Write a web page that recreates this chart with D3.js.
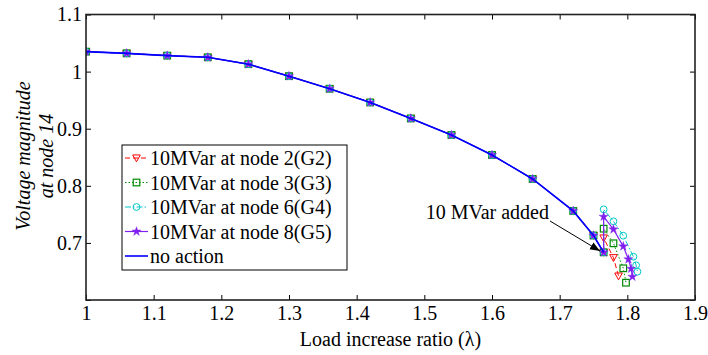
<!DOCTYPE html>
<html>
<head>
<meta charset="utf-8">
<script src="https://cdn.jsdelivr.net/npm/d3@7"></script>
<style>
  body { margin: 0; background: #fff; }
  svg { display: block; }
  text { font-family: "Liberation Serif", "Times New Roman", serif; }
</style>
</head>
<body>
<svg id="chart" width="708" height="355"></svg>
<script>
// ---- data ----
const baseLambda = [1.00, 1.06, 1.12, 1.18, 1.24, 1.30, 1.36, 1.42, 1.48, 1.54, 1.60, 1.66, 1.72, 1.75, 1.765];
const baseV      = [1.035, 1.032, 1.028, 1.025, 1.013, 0.992, 0.970, 0.946, 0.918, 0.889, 0.854, 0.812, 0.756, 0.713, 0.6835];

const g2Lambda = [1.765, 1.7795, 1.787];
const g2V      = [0.7086, 0.6741, 0.642];
const g3Lambda = [1.765, 1.7795, 1.794, 1.798];
const g3V      = [0.7249, 0.6993, 0.6555, 0.6303];
const g4Lambda = [1.765, 1.7795, 1.794, 1.809, 1.813, 1.815];
const g4V      = [0.7588, 0.7378, 0.7126, 0.6758, 0.6608, 0.6496];
const g5Lambda = [1.765, 1.7795, 1.794, 1.8016, 1.8056, 1.8075];
const g5V      = [0.7459, 0.7238, 0.694, 0.6713, 0.6548, 0.6408];

const seriesNames = ["10MVar at node 2(G2)", "10MVar at node 3(G3)", "10MVar at node 6(G4)", "10MVar at node 8(G5)", "no action"];
const xTicks = [1, 1.1, 1.2, 1.3, 1.4, 1.5, 1.6, 1.7, 1.8, 1.9];
const yTicks = [0.6, 0.7, 0.8, 0.9, 1.0, 1.1];
const yTickLabels = ["", "0.7", "0.8", "0.9", "1", "1.1"];

// ---- build series ----
function zip(ls, vs) { return ls.map((l, i) => ({x: l, y: vs[i]})); }
const base = zip(baseLambda, baseV);
const series = [
  {name: seriesNames[0], pts: base.concat(zip(g2Lambda, g2V)), color: "#ff0000", dash: "5,3", sym: "tri", width: 1},
  {name: seriesNames[1], pts: base.concat(zip(g3Lambda, g3V)), color: "#008a00", dash: "1.5,2", sym: "sq", width: 1},
  {name: seriesNames[2], pts: base.concat(zip(g4Lambda, g4V)), color: "#00c8c8", dash: "6,2,1.5,2", sym: "circ", width: 1},
  {name: seriesNames[3], pts: base.concat(zip(g5Lambda, g5V)), color: "#8020f0", dash: null, sym: "star", width: 1.2},
  {name: seriesNames[4], pts: base, color: "#0000ff", dash: null, sym: null, width: 1.6}
];

const svg = d3.select("#chart");
const L = 86, R = 695, T = 14.5, B = 300;
const x = d3.scaleLinear().domain([1, 1.9]).range([L, R]);
const y = d3.scaleLinear().domain([0.6, 1.1]).range([B, T]);

svg.append("defs").append("clipPath").attr("id", "clip")
  .append("rect").attr("x", L).attr("y", T).attr("width", R - L).attr("height", B - T);

function drawMarker(g, sym, cx, cy, color) {
  if (sym === "tri") {
    const s = 3.8;
    g.append("path").attr("d", `M${cx - s},${cy - s * 0.8} L${cx + s},${cy - s * 0.8} L${cx},${cy + s * 1.0} Z`)
      .attr("fill", "none").attr("stroke", color).attr("stroke-width", 1);
  } else if (sym === "sq") {
    g.append("rect").attr("x", cx - 3.3).attr("y", cy - 3.3).attr("width", 6.6).attr("height", 6.6)
      .attr("fill", "none").attr("stroke", color).attr("stroke-width", 1.2);
  } else if (sym === "circ") {
    g.append("circle").attr("cx", cx).attr("cy", cy).attr("r", 3.4)
      .attr("fill", "none").attr("stroke", color).attr("stroke-width", 1);
  } else if (sym === "star") {
    g.append("path").attr("d", d3.symbol().type(d3.symbolStar).size(26)())
      .attr("transform", `translate(${cx},${cy})`)
      .attr("fill", color).attr("stroke", color).attr("stroke-width", 0.4);
  }
}

const plot = svg.append("g").attr("clip-path", "url(#clip)");
const line = d3.line().x(d => x(d.x)).y(d => y(d.y));
series.forEach(s => {
  const g = plot.append("g");
  g.append("path").attr("d", line(s.pts)).attr("fill", "none")
    .attr("stroke", s.color).attr("stroke-width", s.width)
    .attr("stroke-dasharray", s.dash);
  if (s.sym) s.pts.forEach(p => drawMarker(g, s.sym, x(p.x), y(p.y), s.color));
});

// ---- axes (box with inward ticks) ----
const axG = svg.append("g");
const tickLen = 5;
const xb = axG.append("g").attr("transform", `translate(0,${B})`)
  .call(d3.axisBottom(x).tickValues(xTicks).tickSizeInner(-tickLen).tickSizeOuter(0).tickPadding(6)
    .tickFormat(d3.format("")));
const xt = axG.append("g").attr("transform", `translate(0,${T})`)
  .call(d3.axisTop(x).tickValues(xTicks).tickSizeInner(-tickLen).tickSizeOuter(0).tickFormat(""));
const yl = axG.append("g").attr("transform", `translate(${L},0)`)
  .call(d3.axisLeft(y).tickValues(yTicks).tickSizeInner(-tickLen).tickSizeOuter(0).tickPadding(4)
    .tickFormat((d, i) => yTickLabels[i]));
const yr = axG.append("g").attr("transform", `translate(${R},0)`)
  .call(d3.axisRight(y).tickValues(yTicks).tickSizeInner(-tickLen).tickSizeOuter(0).tickFormat(""));
[xb, xt, yl, yr].forEach(a => {
  a.select(".domain").remove();
  a.selectAll(".tick line").attr("stroke", "#000").attr("stroke-width", 1);
  a.selectAll("text").attr("font-size", 20).attr("fill", "#000")
    .style("font-family", '"Liberation Serif", serif');
});
axG.append("rect").attr("x", L).attr("y", T).attr("width", R - L).attr("height", B - T)
  .attr("fill", "none").attr("stroke", "#222").attr("stroke-width", 1.6);

// ---- axis labels ----
svg.append("text").attr("x", (L + R) / 2).attr("y", 346).attr("text-anchor", "middle")
  .attr("font-size", 20).text("Load increase ratio (λ)");
const ylab = svg.append("text").attr("transform", "translate(30,156) rotate(-90)")
  .attr("text-anchor", "middle").attr("font-size", 20).attr("font-style", "italic");
ylab.append("tspan").attr("x", 0).attr("dy", 0).text("Voltage magnitude");
ylab.append("tspan").attr("x", 0).attr("dy", 23).text("at node 14");

// ---- annotation ----
svg.append("text").attr("x", 549).attr("y", 219).attr("text-anchor", "end")
  .attr("font-size", 20).text("10 MVar added");
svg.append("defs").append("marker").attr("id", "arr").attr("viewBox", "0 0 10 10")
  .attr("refX", 10).attr("refY", 5).attr("markerWidth", 10).attr("markerHeight", 10)
  .attr("orient", "auto").attr("markerUnits", "userSpaceOnUse")
  .append("path").attr("d", "M0,1 L10,5 L0,9 Z").attr("fill", "#000");
svg.append("line").attr("x1", 550).attr("y1", 221).attr("x2", 600).attr("y2", 251)
  .attr("stroke", "#000").attr("stroke-width", 1).attr("marker-end", "url(#arr)");

// ---- legend ----
const lg = svg.append("g");
lg.append("rect").attr("x", 122).attr("y", 145).attr("width", 225).attr("height", 125)
  .attr("fill", "#fff").attr("stroke", "#000").attr("stroke-width", 1);
series.forEach((s, i) => {
  const cy = 158 + i * 24.5;
  lg.append("line").attr("x1", 125).attr("x2", 148).attr("y1", cy).attr("y2", cy)
    .attr("stroke", s.color).attr("stroke-width", s.width).attr("stroke-dasharray", s.dash);
  if (s.sym) drawMarker(lg, s.sym, 136.5, cy, s.color);
  lg.append("text").attr("x", 150).attr("y", cy).attr("dy", "0.35em")
    .attr("font-size", 20).text(s.name);
});
</script>
</body>
</html>
